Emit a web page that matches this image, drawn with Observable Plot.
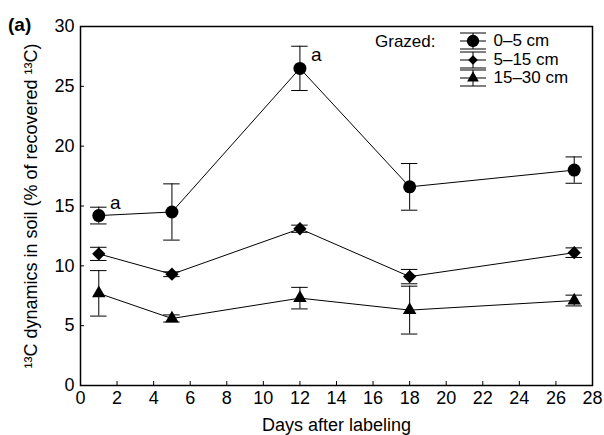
<!DOCTYPE html>
<html><head>
<script src="https://cdn.jsdelivr.net/npm/d3@7"></script>
<script src="https://cdn.jsdelivr.net/npm/@observablehq/plot@0.6"></script>
<style>
body{margin:0;background:#fff;font-family:"Liberation Sans",Arial,sans-serif}
#wrap{position:relative;width:604px;height:435px;overflow:hidden}
#tag{position:absolute;left:8px;top:14px;font-weight:bold;font-size:19px;z-index:2}
#legend{position:absolute;left:375px;top:32px;font-size:17px;z-index:2}
</style>
</head><body>
<div id="wrap"><div id="tag">(a)</div><div id="legend"></div></div>
<script>
const days = [1, 5, 12, 18, 27];
const depths = ["0–5 cm", "5–15 cm", "15–30 cm"];
const means = [
  [14.2, 14.5, 26.5, 16.6, 18.0],
  [11.0, 9.3, 13.1, 9.1, 11.1],
  [7.7, 5.6, 7.3, 6.3, 7.1]
];
const errs = [
  [0.7, 2.35, 1.85, 1.95, 1.1],
  [0.55, 0.2, 0.3, 0.6, 0.4],
  [1.9, 0.3, 0.9, 2.0, 0.45]
];
const notes = [{x: 1.9, y: 15.3, t: "a"}, {x: 12.9, y: 27.6, t: "a"}];
const cap = 0.45;
const syms = [d3.symbolCircle, d3.symbolDiamond2, d3.symbolTriangle];
const sizes = [6.5, 6, 5];

const rows = [];
depths.forEach((d, i) => days.forEach((x, j) =>
  rows.push({depth: d, k: i, x, y: means[i][j], lo: means[i][j] - errs[i][j], hi: means[i][j] + errs[i][j]})));
const caps = rows.flatMap(r => [{x1: r.x - cap, x2: r.x + cap, y: r.lo}, {x1: r.x - cap, x2: r.x + cap, y: r.hi}]);

const chart = Plot.plot({
  width: 604, height: 435,
  marginLeft: 80, marginRight: 12, marginTop: 26, marginBottom: 50,
  style: {fontFamily: "Liberation Sans, Arial, sans-serif", fontSize: "18px", color: "#000"},
  x: {domain: [0, 28], ticks: d3.range(0, 29, 2), label: "Days after labeling", labelAnchor: "center", labelArrow: "none", labelOffset: 45, tickSize: -4, tickPadding: 10},
  y: {domain: [0, 30], ticks: d3.range(0, 31, 5), label: "¹³C dynamics in soil (% of recovered ¹³C)", labelAnchor: "center", labelArrow: "none", labelOffset: 56, tickSize: -4, tickPadding: 10},
  marks: [
    Plot.frame({stroke: "#000", strokeWidth: 1.5}),
    Plot.line(rows, {x: "x", y: "y", z: "depth", stroke: "#000", strokeWidth: 1}),
    Plot.ruleX(rows, {x: "x", y1: "lo", y2: "hi", stroke: "#000"}),
    Plot.ruleY(caps, {x1: "x1", x2: "x2", y: "y", stroke: "#000"}),
    ...syms.map((s, i) => Plot.dot(rows.filter(d => d.k === i), {x: "x", y: "y", symbol: s, fill: "#000", r: sizes[i]})),
    Plot.text(notes, {x: "x", y: "y", text: "t", fontSize: 19})
  ]
});
document.getElementById("wrap").prepend(chart);
chart.style.position = "absolute"; chart.style.left = 0; chart.style.top = 0;

// legend
const leg = d3.select("#legend").append("div").style("display", "flex");
leg.append("div").text("Grazed:").style("margin-right", "24px").style("line-height", "19px");
const items = leg.append("div");
depths.forEach((d, i) => {
  const row = items.append("div").style("display", "flex").style("align-items", "center").style("height", "18.5px");
  const s = row.append("svg").attr("width", 28).attr("height", 18).style("margin-right", "6px");
  [1, 9, 17].forEach(y => s.append("line").attr("x1", 1).attr("x2", 27).attr("y1", y).attr("y2", y).attr("stroke", "#000"));
  s.append("line").attr("x1", 14).attr("x2", 14).attr("y1", 1).attr("y2", 17).attr("stroke", "#000");
  s.append("path").attr("transform", "translate(14,9)").attr("d", d3.symbol(syms[i], [120, 60, 60][i])()).attr("fill", "#000");
  row.append("span").text(d);
});
</script>
</body></html>
